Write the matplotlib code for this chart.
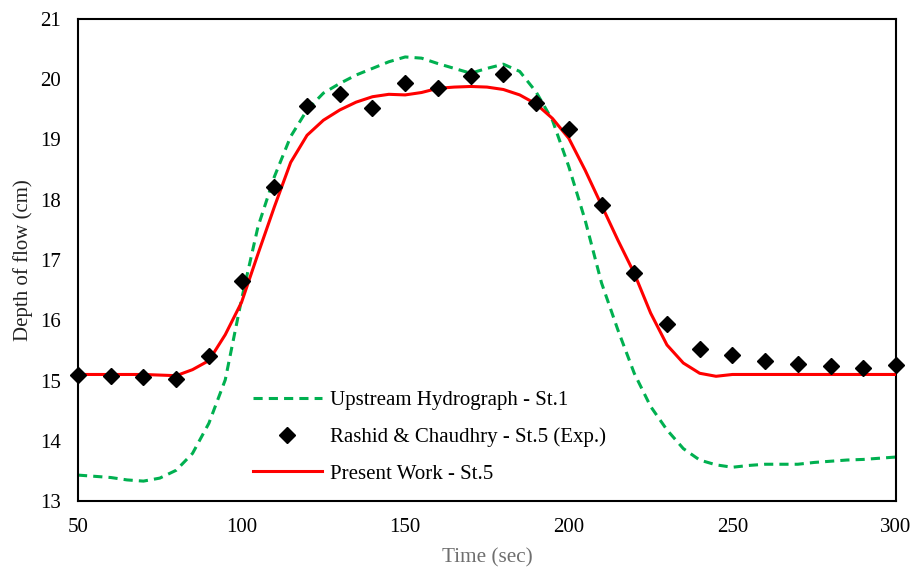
import matplotlib
matplotlib.use("Agg")
import matplotlib.pyplot as plt

plt.rcParams['font.family'] = ['Liberation Serif', 'DejaVu Serif']

# Time axis for experimental points
t_exp = [50, 60, 70, 80, 90, 100, 110, 120, 130, 140, 150, 160, 170, 180, 190,
         200, 210, 220, 230, 240, 250, 260, 270, 280, 290, 300]
depth_exp = [15.09, 15.08, 15.05, 15.03, 15.41, 16.65, 18.21, 19.55, 19.75, 19.52,
             19.93, 19.85, 20.05, 20.08, 19.60, 19.18, 17.91, 16.78, 15.94, 15.53,
             15.42, 15.33, 15.27, 15.24, 15.20, 15.26]

# Time axis for the curves (5 s samples)
t_curve = list(range(50, 301, 5))
depth_upstream = [13.43, 13.41, 13.39, 13.35, 13.33, 13.38, 13.51, 13.79, 14.29, 15.01,
                  16.35, 17.55, 18.38, 19.05, 19.49, 19.77, 19.93, 20.07, 20.18, 20.29,
                  20.37, 20.35, 20.26, 20.18, 20.10, 20.18, 20.25, 20.13, 19.79, 19.32,
                  18.55, 17.66, 16.62, 15.84, 15.12, 14.57, 14.18, 13.87, 13.68, 13.60,
                  13.56, 13.59, 13.61, 13.61, 13.61, 13.64, 13.66, 13.68, 13.69, 13.71,
                  13.73]
depth_present = [15.10, 15.10, 15.10, 15.10, 15.10, 15.09, 15.08, 15.18, 15.33, 15.76,
                 16.30, 17.10, 17.88, 18.62, 19.07, 19.32, 19.49, 19.62, 19.71, 19.75,
                 19.74, 19.78, 19.85, 19.87, 19.88, 19.87, 19.83, 19.74, 19.59, 19.35,
                 19.02, 18.49, 17.91, 17.33, 16.78, 16.12, 15.59, 15.29, 15.12, 15.07,
                 15.10, 15.10, 15.10, 15.10, 15.10, 15.10, 15.10, 15.10, 15.10, 15.10,
                 15.10]

x_ticks = [50, 100, 150, 200, 250, 300]
y_ticks = [13, 14, 15, 16, 17, 18, 19, 20, 21]

fig = plt.figure(figsize=(9.12, 5.72), dpi=100)
ax = fig.add_axes([78/912, 1-501/572, 818/912, 482/572])

ax.plot(t_curve, depth_upstream, color='#00B050', linestyle=(0, (3, 2)), linewidth=2.2,
        label='Upstream Hydrograph - St.1', zorder=2)
ax.plot(t_exp, depth_exp, linestyle='none', marker='D', markersize=8, color='black',
        label='Rashid & Chaudhry - St.5 (Exp.)', zorder=4, clip_on=False)
ax.plot(t_curve, depth_present, color='#FF0000', linewidth=2.2,
        label='Present Work - St.5', zorder=3)

ax.set_xlim(50, 300)
ax.set_ylim(13, 21)
ax.set_xticks(x_ticks)
ax.set_yticks(y_ticks)
ax.tick_params(axis='both', length=0, labelsize=15, colors='black')
ax.tick_params(axis='x', pad=12)
ax.tick_params(axis='y', pad=12.5)
for s in ax.spines.values():
    s.set_linewidth(1.5)
    s.set_color('black')

ax.set_xlabel('Time (sec)', fontsize=15.3, color='#6f6f6f', labelpad=8)
ax.set_ylabel('Depth of flow (cm)', fontsize=15, color='#222222', labelpad=5)

ax.legend(loc='upper left', bbox_to_anchor=(0.214, 0.229), frameon=False,
          fontsize=15, handlelength=3.3, handletextpad=0.38, labelspacing=0.82,
          borderaxespad=0, borderpad=0)

fig.savefig('out.png', dpi=100)
